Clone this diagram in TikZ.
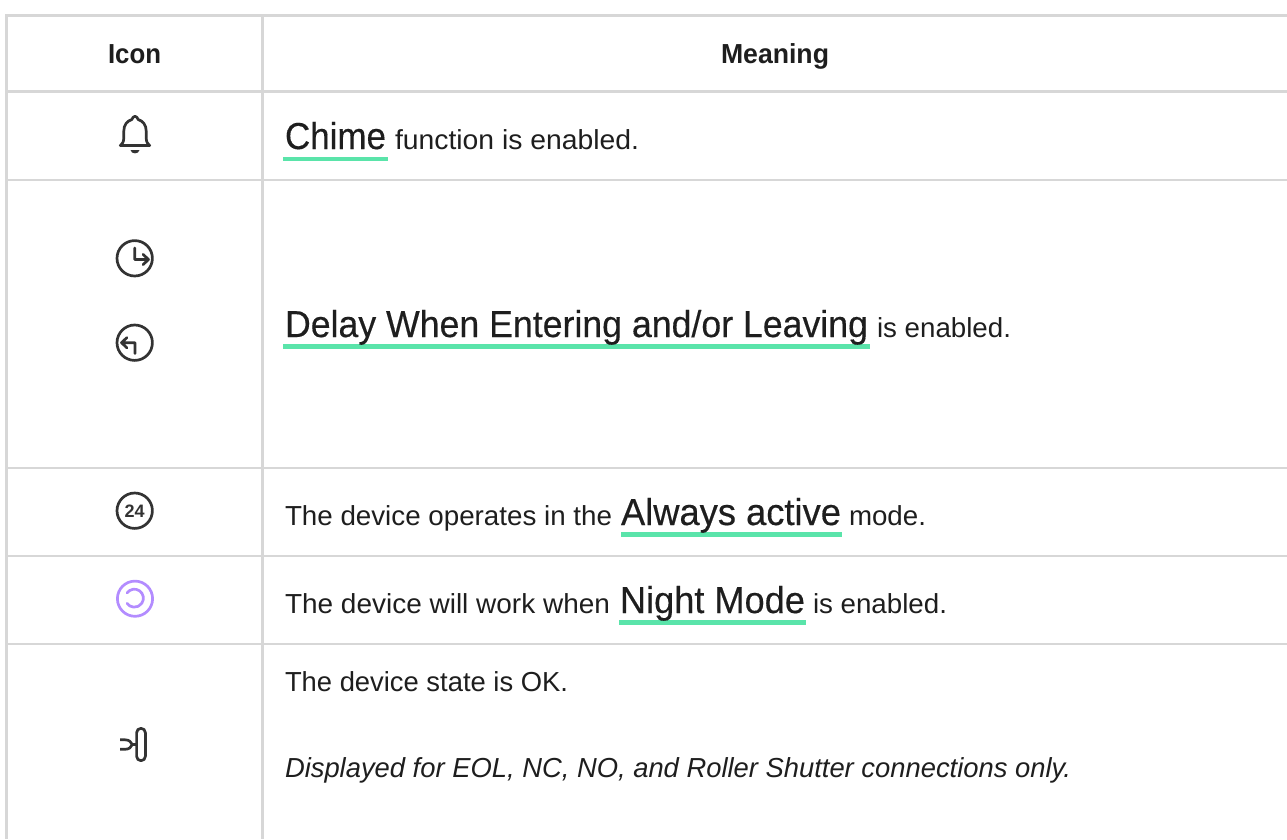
\documentclass[tikz,border=0pt]{standalone}
\usepackage{fontspec}
\usepackage{graphicx}
\setmainfont{Liberation Sans}
\newfontfamily\medfont[FakeBold=0.35]{Liberation Sans}
\definecolor{ink}{HTML}{1E1E1E}
\definecolor{rule}{HTML}{D7D7D7}
\definecolor{mint}{HTML}{5AE4AA}
\definecolor{violet}{HTML}{B38CFF}
\definecolor{glyph}{HTML}{333333}
\newcommand{\fitw}[2]{\resizebox{#1pt}{\height}{#2}}
\tikzset{
  txt/.style={anchor=base west,inner sep=0pt,outer sep=0pt,text=ink,font=\fontsize{27.5}{32}\selectfont},
  big/.style={txt,font=\medfont\fontsize{37.5}{42}\selectfont},
  head/.style={txt,font=\bfseries\fontsize{27.5}{32}\selectfont},
  rowline/.style={draw=none,fill=rule},
  under/.style={draw=none,fill=mint},
  icon/.style={draw=glyph,line width=2.7pt,line cap=round,line join=round}
}
\begin{document}
\begin{tikzpicture}[x=1pt,y=-1pt]
\useasboundingbox (0,0) rectangle (1287,839);
\fill[white] (0,0) rectangle (1287,839);
% table rules
\fill[rowline] (5,14) rectangle (1287,16.7);
\fill[rowline] (5,90) rectangle (1287,92.7);
\fill[rowline] (5,179) rectangle (1287,181);
\fill[rowline] (5,467) rectangle (1287,469);
\fill[rowline] (5,555) rectangle (1287,557);
\fill[rowline] (5,642.5) rectangle (1287,645);
\fill[rowline] (5,14) rectangle (7.7,839);
\fill[rowline] (261,14) rectangle (264,839);
% headers
\node[head] (hicon) at (108,63) {\fitw{53}{Icon}};
\node[head] (hmean) at (721,63) {\fitw{108}{Meaning}};
% underlines
\fill[under] (283,157) rectangle (388,161);
\fill[under] (283,344) rectangle (870,349);
\fill[under] (621,532) rectangle (842,537);
\fill[under] (619,620) rectangle (806,625);
% body text
\node[big] (chime) at (285,149) {\fitw{101}{Chime}};
\node[txt] (chimet) at (395,149) {\fitw{244}{function is enabled.}};
\node[big] (delay) at (285,337) {\fitw{583}{Delay When Entering and/or Leaving}};
\node[txt] (delayt) at (877,337) {\fitw{134}{is enabled.}};
\node[txt] (alw1) at (285,525) {\fitw{327}{The device operates in the}};
\node[big] (alw2) at (621,525) {\fitw{220}{Always active}};
\node[txt] (alw3) at (849,525) {\fitw{77}{mode.}};
\node[txt] (nig1) at (285,613) {\fitw{325}{The device will work when}};
\node[big] (nig2) at (620,613) {\fitw{185}{Night Mode}};
\node[txt] (nig3) at (813,613) {\fitw{134}{is enabled.}};
\node[txt] (ok) at (285,691) {\fitw{283}{The device state is OK.}};
\node[txt,font=\itshape\fontsize{27.5}{32}\selectfont] (disp) at (285,777) {\fitw{786}{Displayed for EOL, NC, NO, and Roller Shutter connections only.}};
% bell
\draw[icon] (120.3,145.5) -- (149.7,145.5)
  (120.3,145.5) .. controls (122,144.5) and (123.8,142) .. (123.8,138) -- (123.8,131)
  .. controls (123.8,125) and (127,121) .. (131.8,119.5)
  .. controls (132.3,117.5) and (134,116.3) .. (135,116.3)
  .. controls (136,116.3) and (137.7,117.5) .. (138.2,119.5)
  .. controls (143,121) and (146.2,125) .. (146.2,131) -- (146.2,138)
  .. controls (146.2,142) and (148,144.5) .. (149.7,145.5);
\fill[glyph] (130.5,150) -- (139.5,150) .. controls (139,154.5) and (131,154.5) .. (130.5,150) -- cycle;
% clock out
\draw[icon] (134.7,258.3) circle[radius=17.7];
\draw[icon] (134.7,248) -- (134.7,259.5) -- (148,259.5) (143,254.3) -- (148.5,259.5) -- (143,264.7);
% clock in
\draw[icon] (134.7,342.7) circle[radius=17.7];
\draw[icon] (135,353.5) -- (135,342.7) -- (122,342.7) (127,337.5) -- (121.5,342.7) -- (127,347.9);
% 24
\draw[icon] (134.7,510.7) circle[radius=17.7];
\node[inner sep=0pt,text=glyph,font=\bfseries\fontsize{18}{19}\selectfont] (n24) at (134.7,511.2) {24};
% night
\draw[icon,draw=violet] (135,598.7) circle[radius=17.6];
\draw[icon,draw=violet] (127,593) arc[start angle=-145,end angle=145,radius=9];
% door
\draw[icon,rounded corners=4.4pt] (136.6,728.3) rectangle (145.4,760.7);
\draw[icon,line cap=butt] (120,739.8) -- (125,739.8) .. controls (129,739.8) and (131.5,742) .. (132.3,744.5) -- (136,744.5)
  (132.3,744.5) .. controls (131.5,747) and (129,749.3) .. (125,749.3) -- (120,749.3);
\end{tikzpicture}
\end{document}
